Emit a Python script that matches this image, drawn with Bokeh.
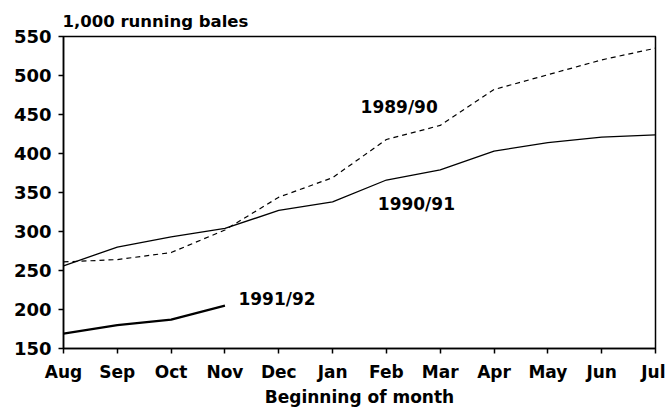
from bokeh.plotting import figure
from bokeh.models import Label, FixedTicker, Range1d
from bokeh.embed import file_html
from bokeh.resources import INLINE

months = ["Aug", "Sep", "Oct", "Nov", "Dec", "Jan", "Feb", "Mar", "Apr", "May", "Jun", "Jul"]
s1989 = [261, 264, 273, 302, 344, 369, 418, 436, 482, 501, 520, 535]
s1990 = [256, 280, 293, 304, 327, 338, 366, 379, 403, 414, 421, 424]
s1991 = [169, 180, 187, 205]
y_ticks = [150, 200, 250, 300, 350, 400, 450, 500, 550]

FONT = "DejaVu Sans"
x = list(range(len(months)))

p = figure(width=665, height=409, output_backend="svg", toolbar_location=None,
           x_range=Range1d(0, 11), y_range=Range1d(150, 550),
           min_border_left=63, min_border_right=10, min_border_top=36, min_border_bottom=60)
p.background_fill_color = "white"
p.border_fill_color = "white"
p.outline_line_color = "black"
p.outline_line_width = 1.5
p.xgrid.visible = False
p.ygrid.visible = False

p.title.text = "1,000 running bales"
p.title.text_font = FONT
p.title.text_font_size = "16.5px"
p.title.text_font_style = "bold"
p.title.text_color = "black"
p.title.align = "left"
p.title.offset = -1
p.title.standoff = 11

p.line(x, s1989, line_color="black", line_width=1.2, line_dash="5 4")
p.line(x, s1990, line_color="black", line_width=1.3)
p.line(x[:len(s1991)], s1991, line_color="black", line_width=2.2)

for txt, lx, ly in [("1989/90", 5.52, 459), ("1990/91", 5.84, 335), ("1991/92", 3.25, 214)]:
    p.add_layout(Label(x=lx, y=ly, text=txt, text_font=FONT, text_font_size="17px",
                       text_font_style="bold", text_baseline="middle", text_align="left",
                       text_color="black"))

p.xaxis.ticker = FixedTicker(ticks=x)
p.xaxis.major_label_overrides = {i: m for i, m in enumerate(months)}
p.yaxis.ticker = FixedTicker(ticks=y_ticks)
p.xaxis.axis_label = "Beginning of month"

for ax in (p.xaxis[0], p.yaxis[0]):
    ax.axis_line_color = "black"
    ax.axis_line_width = 1.5
    ax.major_tick_line_color = "black"
    ax.major_tick_line_width = 1.5
    ax.major_tick_out = 5
    ax.major_tick_in = 0
    ax.minor_tick_line_color = None
    ax.major_label_text_font = FONT
    ax.major_label_text_font_size = "17px"
    ax.major_label_text_font_style = "bold"
    ax.major_label_text_color = "black"
    ax.axis_label_text_font = FONT
    ax.axis_label_text_font_size = "17px"
    ax.axis_label_text_font_style = "bold"
    ax.axis_label_text_color = "black"

p.yaxis.major_label_text_font_size = "18px"
p.xaxis.major_label_standoff = 8
p.xaxis.axis_label_standoff = 2
p.yaxis.major_label_standoff = 7

open("out.html", "w").write(file_html(p, INLINE))
